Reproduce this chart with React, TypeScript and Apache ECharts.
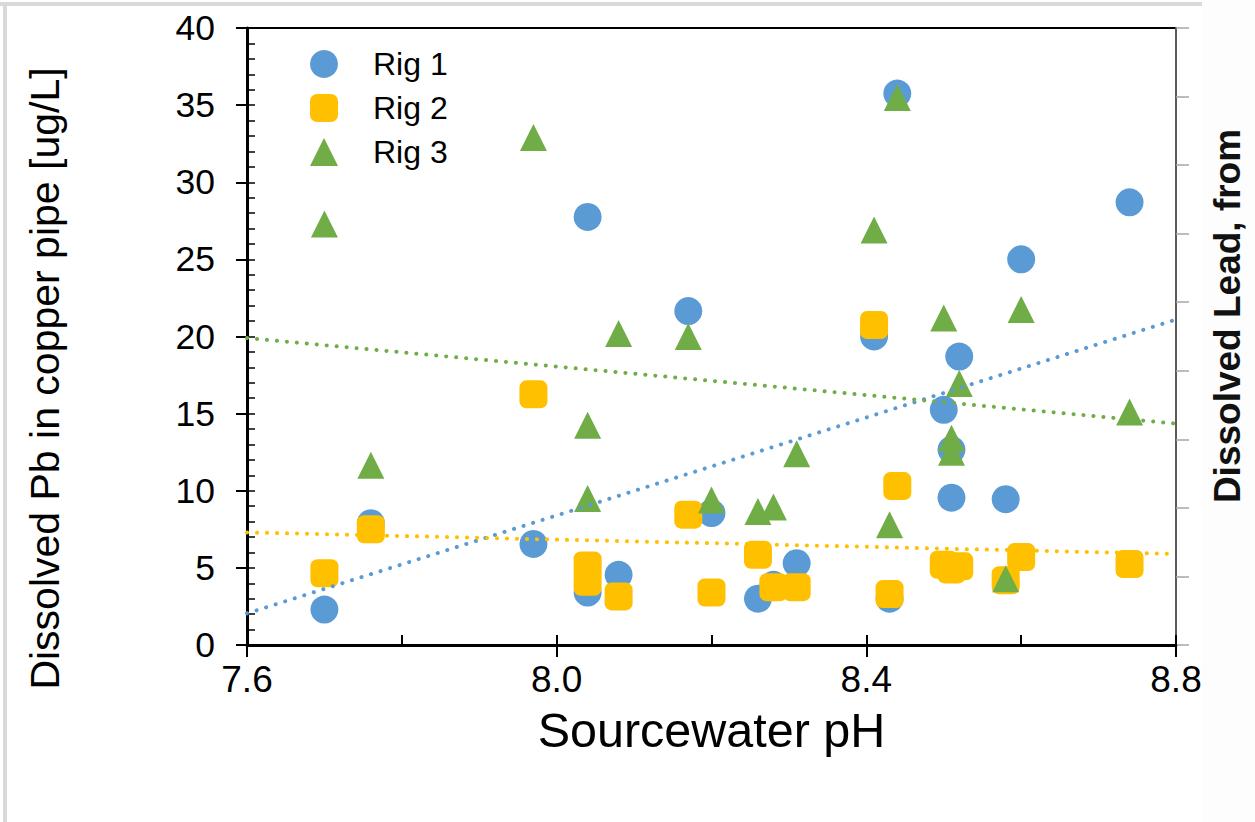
import React, { useEffect, useRef } from "react";
import * as echarts from "echarts";

// Sourcewater pH (x) and dissolved Pb [ug/L] (y) per rig
const rig1X = [7.70, 7.76, 7.97, 8.04, 8.04, 8.08, 8.17, 8.20, 8.26, 8.28, 8.31, 8.41, 8.43, 8.44, 8.50, 8.51, 8.51, 8.52, 8.58, 8.60, 8.74];
const rig1Y = [2.3, 7.9, 6.55, 27.75, 3.4, 4.55, 21.65, 8.55, 3.0, 3.9, 5.3, 20.0, 3.0, 35.75, 15.25, 12.65, 9.55, 18.7, 9.45, 25.0, 28.7];

const rig2X = [7.70, 7.76, 7.97, 8.04, 8.04, 8.08, 8.17, 8.20, 8.26, 8.28, 8.31, 8.41, 8.43, 8.44, 8.50, 8.51, 8.52, 8.58, 8.60, 8.74];
const rig2Y = [4.65, 7.5, 16.25, 5.15, 4.1, 3.15, 8.45, 3.4, 5.85, 3.75, 3.75, 20.75, 3.3, 10.3, 5.2, 4.9, 5.1, 4.2, 5.7, 5.25];

const rig3X = [7.70, 7.76, 7.97, 8.04, 8.04, 8.08, 8.17, 8.20, 8.26, 8.28, 8.31, 8.41, 8.43, 8.44, 8.50, 8.51, 8.51, 8.52, 8.58, 8.60, 8.74];
const rig3Y = [27.3, 11.65, 32.9, 14.25, 9.5, 20.2, 20.0, 9.4, 8.65, 8.95, 12.4, 26.9, 7.8, 35.5, 21.2, 13.4, 12.5, 16.95, 4.3, 21.75, 15.1];

// Linear trendline end points [pH, Pb]
const trend1 = [[7.6, 2.05], [8.8, 21.1]];
const trend2 = [[7.6, 7.3], [8.8, 5.9]];
const trend3 = [[7.6, 19.9], [8.8, 14.35]];

const seriesNames = ["Rig 1", "Rig 2", "Rig 3"];
const xTicks = [7.6, 8.0, 8.4, 8.8];

const BLUE = "#5B9BD5";
const YELLOW = "#FFC000";
const GREEN = "#70AD47";
const FONT = "Liberation Sans, Arial, sans-serif";

const zip = (xs: number[], ys: number[]) => xs.map((x, i) => [x, ys[i]]);

export default function App() {
  const ref = useRef<HTMLDivElement>(null);

  useEffect(() => {
    if (!ref.current) return;
    const chart = echarts.init(ref.current, undefined, { renderer: "svg" });
    const dotted = (color: string) => ({
      color,
      width: 4,
      type: [0.1, 9.9],
      cap: "round",
    });
    chart.setOption({
      animation: false,
      backgroundColor: "#ffffff",
      textStyle: { fontFamily: FONT },
      grid: {
        left: 247,
        right: 79,
        top: 28,
        bottom: 177,
        show: true,
        borderColor: "#000",
        borderWidth: 2,
        backgroundColor: "transparent",
      },
      legend: {
        orient: "vertical",
        left: 305,
        top: 43,
        itemWidth: 28,
        itemHeight: 28,
        itemGap: 12,
        data: seriesNames,
        textStyle: { fontSize: 32, color: "#000", fontFamily: FONT, padding: [0, 0, 0, 30] },
      },
      xAxis: [
        {
          type: "value",
          min: 7.6,
          max: 8.8,
          interval: 0.4,
          name: "Sourcewater pH",
          nameLocation: "middle",
          nameGap: 60,
          nameTextStyle: { fontSize: 48.5, color: "#000", fontFamily: FONT },
          axisLine: { show: true, onZero: false, lineStyle: { color: "#000", width: 3 } },
          axisTick: { show: true, inside: false, length: 12, lineStyle: { color: "#000", width: 2 } },
          axisLabel: {
            fontSize: 37,
            color: "#000",
            margin: 16,
            formatter: (v: number) => (xTicks.some((t) => Math.abs(t - v) < 1e-6) ? v.toFixed(1) : ""),
          },
          splitLine: { show: false },
        },
        {
          type: "value",
          min: 7.6,
          max: 8.8,
          interval: 0.2,
          position: "bottom",
          axisLine: { show: false },
          axisTick: { show: true, inside: true, length: 10, lineStyle: { color: "#000", width: 2 } },
          axisLabel: { show: false },
          splitLine: { show: false },
        },
      ],
      yAxis: [
        {
          type: "value",
          min: 0,
          max: 40,
          interval: 5,
          name: "Dissolved Pb in copper pipe [ug/L]",
          nameLocation: "middle",
          nameGap: 182,
          nameRotate: 90,
          nameTextStyle: { fontSize: 41, color: "#000", fontFamily: FONT, padding: [0, 84, 0, 0] },
          axisLine: { show: true, onZero: false, lineStyle: { color: "#000", width: 3 } },
          axisTick: { show: true, inside: false, length: 11, lineStyle: { color: "#000", width: 2 } },
          axisLabel: { fontSize: 35.5, color: "#000", margin: 32 },
          splitLine: { show: false },
        },
        {
          type: "value",
          min: 0,
          max: 40,
          interval: 1,
          position: "left",
          axisLine: { show: false },
          axisTick: { show: true, inside: true, length: 8, lineStyle: { color: "#000", width: 1.5 } },
          axisLabel: { show: false },
          splitLine: { show: false },
        },
        {
          type: "value",
          min: 0,
          max: 9,
          interval: 1,
          position: "right",
          axisLine: { show: true, lineStyle: { color: "#595959", width: 2 } },
          axisTick: { show: true, inside: false, length: 13, lineStyle: { color: "#a6a6a6", width: 1.5 } },
          axisLabel: { show: false },
          splitLine: { show: false },
        },
      ],
      graphic: [
        { type: "rect", shape: { x: 0, y: 2, width: 1202, height: 4 }, style: { fill: "#d9d9d9" }, silent: true },
        { type: "rect", shape: { x: 3, y: 2, width: 4, height: 820 }, style: { fill: "#d9d9d9" }, silent: true },
        { type: "rect", shape: { x: 1202, y: 0, width: 53, height: 822 }, style: { fill: "#fdfdfd" }, silent: true, z: -1 },
        {
          type: "text",
          x: 1227,
          y: 316,
          rotation: Math.PI / 2,
          style: {
            text: "Dissolved Lead, from",
            fontSize: 37,
            fontWeight: "bold",
            fontFamily: FONT,
            fill: "#111",
            align: "center",
            verticalAlign: "middle",
          },
        },
      ],
      series: [
        {
          name: "Rig 1",
          type: "scatter",
          symbol: "circle",
          symbolSize: 28,
          itemStyle: { color: BLUE, opacity: 1 },
          data: zip(rig1X, rig1Y),
        },
        {
          name: "Rig 2",
          type: "scatter",
          symbol: "roundRect",
          symbolSize: 28,
          itemStyle: { color: YELLOW, opacity: 1 },
          data: zip(rig2X, rig2Y),
        },
        {
          name: "Rig 3",
          type: "scatter",
          symbol: "triangle",
          symbolSize: 27,
          itemStyle: { color: GREEN, opacity: 1 },
          data: zip(rig3X, rig3Y),
        },
        {
          name: "trend1",
          type: "line",
          showSymbol: false,
          symbol: "none",
          lineStyle: dotted(BLUE),
          data: trend1,
          z: 3,
        },
        {
          name: "trend2",
          type: "line",
          showSymbol: false,
          symbol: "none",
          lineStyle: dotted(YELLOW),
          data: trend2,
          z: 3,
        },
        {
          name: "trend3",
          type: "line",
          showSymbol: false,
          symbol: "none",
          lineStyle: dotted(GREEN),
          data: trend3,
          z: 3,
        },
      ],
    });
    return () => chart.dispose();
  }, []);

  return (
    <div
      ref={ref}
      style={{ position: "absolute", left: 0, top: 0, width: 1255, height: 822 }}
    />
  );
}
